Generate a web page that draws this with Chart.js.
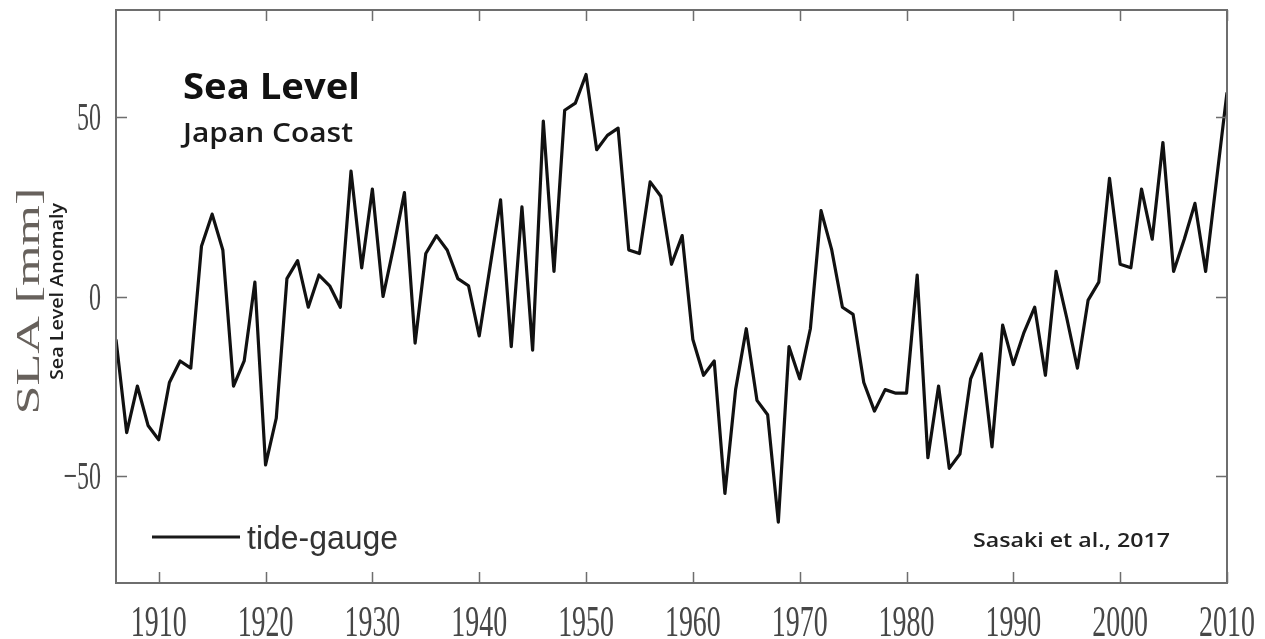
<!DOCTYPE html>
<html>
<head>
<meta charset="utf-8">
<style>
  html, body { margin: 0; padding: 0; background: #fff; }
  #wrap { width: 1265px; height: 639px; }
</style>
<script src="https://cdn.jsdelivr.net/npm/chart.js@4.4.1/dist/chart.umd.min.js"></script>
</head>
<body>
<div id="wrap"><canvas id="chart"></canvas></div>
<script>
const years = [
    1906, 1907, 1908, 1909, 1910, 1911, 1912, 1913, 1914, 1915,
    1916, 1917, 1918, 1919, 1920, 1921, 1922, 1923, 1924, 1925,
    1926, 1927, 1928, 1929, 1930, 1931, 1932, 1933, 1934, 1935,
    1936, 1937, 1938, 1939, 1940, 1941, 1942, 1943, 1944, 1945,
    1946, 1947, 1948, 1949, 1950, 1951, 1952, 1953, 1954, 1955,
    1956, 1957, 1958, 1959, 1960, 1961, 1962, 1963, 1964, 1965,
    1966, 1967, 1968, 1969, 1970, 1971, 1972, 1973, 1974, 1975,
    1976, 1977, 1978, 1979, 1980, 1981, 1982, 1983, 1984, 1985,
    1986, 1987, 1988, 1989, 1990, 1991, 1992, 1993, 1994, 1995,
    1996, 1997, 1998, 1999, 2000, 2001, 2002, 2003, 2004, 2005,
    2006, 2007, 2008, 2009, 2010
];
// sea level anomaly, mm (tide-gauge)
const sla = [
    -12, -38, -25, -36, -40, -24, -18, -20, 14, 23,
    13, -25, -18, 4, -47, -34, 5, 10, -3, 6,
    3, -3, 35, 8, 30, 0, 14, 29, -13, 12,
    17, 13, 5, 3, -11, 8, 27, -14, 25, -15,
    49, 7, 52, 54, 62, 41, 45, 47, 13, 12,
    32, 28, 9, 17, -12, -22, -18, -55, -26, -9,
    -29, -33, -63, -14, -23, -9, 24, 13, -3, -5,
    -24, -32, -26, -27, -27, 6, -45, -25, -48, -44,
    -23, -16, -42, -8, -19, -10, -3, -22, 7, -6,
    -20, -1, 4, 33, 9, 8, 30, 16, 43, 7,
    16, 26, 7, 32, 57
];
const xTicks = [1910, 1920, 1930, 1940, 1950, 1960, 1970, 1980, 1990, 2000, 2010];
const yTicks = [-50, 0, 50];
const yTickLabels = ["\u221250", "0", "50"];

// draw text squeezed/stretched horizontally so it fills a given width
function fitText(ctx, txt, x, y, width, font, color) {
    ctx.save();
    ctx.font = font;
    ctx.fillStyle = color;
    ctx.textAlign = "left";
    ctx.textBaseline = "alphabetic";
    const w = ctx.measureText(txt).width;
    ctx.translate(x, y);
    ctx.scale(width / w, 1);
    ctx.fillText(txt, 0, 0);
    ctx.restore();
}

function squeezed(ctx, txt, x, y, sx, align, font, color) {
    ctx.save();
    ctx.font = font;
    ctx.fillStyle = color;
    ctx.textAlign = align;
    ctx.textBaseline = "alphabetic";
    ctx.translate(x, y);
    ctx.scale(sx, 1);
    ctx.fillText(txt, 0, 0);
    ctx.restore();
}

const frame = {
    id: "frame",
    beforeDraw(chart) {
        const ctx = chart.ctx;
        ctx.save();
        ctx.fillStyle = "#fff";
        ctx.fillRect(0, 0, chart.width, chart.height);
        ctx.restore();
    },
    afterDraw(chart) {
        const ctx = chart.ctx;
        const a = chart.chartArea;
        const xs = chart.scales.x, ys = chart.scales.y;
        const serif = "'Liberation Serif', 'DejaVu Serif', serif";

        ctx.save();
        ctx.strokeStyle = "#6e6e6e";
        ctx.lineWidth = 2;
        ctx.strokeRect(a.left, a.top, a.right - a.left, a.bottom - a.top);

        ctx.lineWidth = 1.5;
        ctx.beginPath();
        xTicks.forEach(v => {
            const px = Math.round(xs.getPixelForValue(v)) + 0.5;
            ctx.moveTo(px, a.bottom); ctx.lineTo(px, a.bottom - 11);
            ctx.moveTo(px, a.top); ctx.lineTo(px, a.top + 11);
        });
        yTicks.forEach(v => {
            const py = Math.round(ys.getPixelForValue(v)) + 0.5;
            ctx.moveTo(a.left, py); ctx.lineTo(a.left + 11, py);
            ctx.moveTo(a.right, py); ctx.lineTo(a.right - 11, py);
        });
        ctx.stroke();
        ctx.restore();

        xTicks.forEach(v => {
            squeezed(ctx, String(v), xs.getPixelForValue(v), a.bottom + 53, 0.62, "center",
                "45px " + serif, "#474747");
        });
        yTicks.forEach((v, i) => {
            squeezed(ctx, yTickLabels[i], a.left - 15, ys.getPixelForValue(v) + 13, 0.6, "right",
                "40px " + serif, "#474747");
        });

        // y axis titles
        ctx.save();
        ctx.translate(39, 301);
        ctx.scale(0.64, 1);
        ctx.rotate(-Math.PI / 2);
        ctx.font = "52px " + serif;
        ctx.fillStyle = "#67615c";
        ctx.textAlign = "center";
        ctx.textBaseline = "alphabetic";
        ctx.fillText("SLA [mm]", 0, 0);
        ctx.restore();

        ctx.save();
        ctx.translate(63, 380);
        ctx.rotate(-Math.PI / 2);
        fitText(ctx, "Sea Level Anomaly", 0, 0, 177, "600 18px 'Open Sans'", "#1e1e1e");
        ctx.restore();

        // panel annotations
        fitText(ctx, "Sea Level", 183, 99, 177, "700 35px 'Open Sans'", "#111");
        fitText(ctx, "Japan Coast", 183, 142, 170, "600 27px 'Open Sans'", "#1a1a1a");

        ctx.save();
        ctx.strokeStyle = "#1a1a1a";
        ctx.lineWidth = 3;
        ctx.beginPath();
        ctx.moveTo(152, 537); ctx.lineTo(240, 537);
        ctx.stroke();
        ctx.restore();
        fitText(ctx, "tide-gauge", 247, 549, 151, "33px 'Liberation Sans'", "#333");

        fitText(ctx, "Sasaki et al., 2017", 973, 547, 197, "600 19px 'Open Sans'", "#222");
    }
};

new Chart(document.getElementById("chart"), {
    type: "line",
    data: {
        datasets: [{
            label: "tide-gauge",
            data: years.map((yr, i) => ({ x: yr, y: sla[i] })),
            borderColor: "#111",
            borderWidth: 3.2,
            borderJoinStyle: "round",
            pointRadius: 0,
            tension: 0,
            fill: false
        }]
    },
    options: {
        responsive: true,
        maintainAspectRatio: false,
        animation: false,
        layout: { padding: { left: 0, right: 38, top: 10, bottom: 0 } },
        plugins: {
            legend: { display: false },
            tooltip: { enabled: false }
        },
        scales: {
            x: {
                type: "linear",
                min: 1906,
                max: 2010,
                grid: { display: false },
                border: { display: false },
                ticks: { display: false },
                afterBuildTicks(s) { s.ticks = xTicks.map(v => ({ value: v })); },
                afterFit(s) { s.height = 56; }
            },
            y: {
                min: -80,
                max: 80,
                grid: { display: false },
                border: { display: false },
                ticks: { display: false },
                afterBuildTicks(s) { s.ticks = yTicks.map(v => ({ value: v })); },
                afterFit(s) { s.width = 116; }
            }
        }
    },
    plugins: [frame]
});
</script>
</body>
</html>
